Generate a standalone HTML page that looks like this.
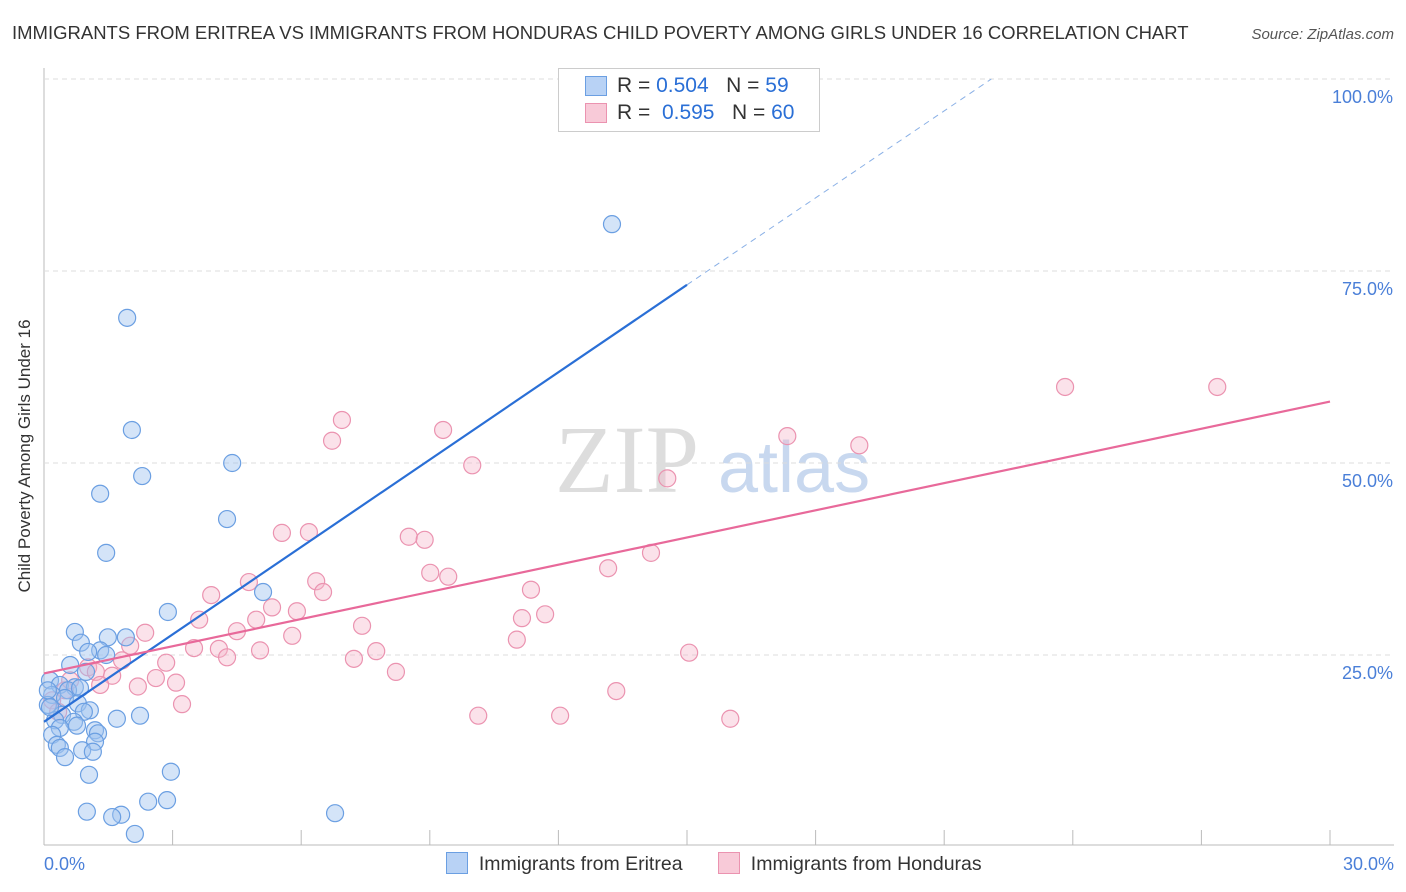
<!DOCTYPE html>
<html><head><meta charset="utf-8"><style>
body{margin:0;background:#fff;font-family:"Liberation Sans",sans-serif}
svg{display:block}
</style></head><body>
<svg id="chart" width="1406" height="892" xmlns="http://www.w3.org/2000/svg">
<text x="12" y="39" font-size="18.5" fill="#333">IMMIGRANTS FROM ERITREA VS IMMIGRANTS FROM HONDURAS CHILD POVERTY AMONG GIRLS UNDER 16 CORRELATION CHART</text>
<text x="1394" y="39" font-size="15" fill="#555" font-style="italic" text-anchor="end">Source: ZipAtlas.com</text>
<text x="30" y="456" font-size="17" fill="#333" text-anchor="middle" transform="rotate(-90 30 456)">Child Poverty Among Girls Under 16</text>
<text x="555" y="492" font-size="96" fill="#ddd" font-family="Liberation Serif,serif">ZIP</text>
<text x="718" y="492" font-size="72" fill="#c8d8ef">atlas</text>
<g id="grid"></g><g id="marks"></g>
</svg>
<script>
const xTicks=[0,3,6,9,12,15,18,21,24,27,30];
const yTicks=[25,50,75,100];
const blueX=[1.94,2.05,2.29,1.31,4.39,4.27,13.25,1.45,5.11,2.89,0.72,0.86,1.49,1.91,1.31,1.03,1.45,0.61,0.98,0.14,0.37,0.72,0.56,0.84,0.19,0.49,0.79,0.09,1.07,0.93,0.42,0.26,0.70,0.77,0.37,1.70,2.24,1.19,1.26,0.19,1.19,0.30,0.37,0.89,1.14,0.49,1.05,2.96,1.00,1.80,1.59,2.43,2.87,2.12,6.79,0.09,0.14];
const blueY=[68.9,54.3,48.3,46.0,50.0,42.7,81.1,38.3,33.2,30.6,28.0,26.6,27.3,27.3,25.6,25.4,25.0,23.7,22.8,21.7,21.1,20.8,20.4,20.7,19.8,19.4,18.7,18.5,17.8,17.6,17.2,16.5,16.3,15.8,15.5,16.7,17.1,15.2,14.8,14.6,13.7,13.3,12.9,12.6,12.4,11.7,9.4,9.8,4.6,4.2,3.9,5.9,6.1,1.7,4.4,20.4,18.2];
const pinkX=[23.82,27.37,6.95,6.72,9.31,9.99,17.34,19.02,14.54,5.55,6.18,8.51,8.88,14.16,13.16,9.01,9.43,4.78,6.35,6.51,11.36,3.90,5.32,5.90,11.69,11.15,3.62,4.95,7.42,4.50,2.36,5.79,11.03,2.01,3.50,4.08,5.04,7.75,4.27,7.23,15.05,1.82,2.85,1.03,1.21,1.59,8.21,2.61,3.08,2.19,0.49,13.35,0.19,3.22,10.13,12.04,16.01,0.33,0.61,1.31];
const pinkY=[59.9,59.9,55.6,52.9,54.3,49.7,53.5,52.3,48.0,40.9,41.0,40.4,40.0,38.3,36.3,35.7,35.2,34.5,34.6,33.2,33.5,32.8,31.2,30.7,30.3,29.8,29.6,29.6,28.8,28.1,27.9,27.5,27.0,26.2,25.9,25.8,25.6,25.5,24.7,24.5,25.3,24.3,24.0,23.4,22.8,22.3,22.8,22.0,21.4,20.9,20.4,20.3,19.1,18.6,17.1,17.1,16.7,17.6,21.7,21.1];
const blueLine=[0,16.3,15,73.2,22.1,100];
const pinkLine=[0,22.6,30,58.0];
const NS='http://www.w3.org/2000/svg';
const X=v=>44+v/30*1286, Y=v=>847-v/100*768;
const svg=document.getElementById('chart'),grid=document.getElementById('grid'),marks=document.getElementById('marks');
function mk(tag,at,par){const e=document.createElementNS(NS,tag);for(const k in at)e.setAttribute(k,at[k]);par.appendChild(e);return e;}
let ax=mk('line',{x1:44,y1:845,x2:1394,y2:845,stroke:'#bbb'},grid);


let ay=mk('line',{x1:44,y1:68,x2:44,y2:845,stroke:'#bbb'},grid);


xTicks.forEach(t=>{if(t===0)return;let l=mk('line',{x1:X(t),y1:830,x2:X(t),y2:845,stroke:'#bbb'},grid);

});
yTicks.forEach(t=>{let l=mk('line',{x1:44,y1:Y(t),x2:1394,y2:Y(t),stroke:'#ddd','stroke-dasharray':'5,4'},grid);


let tx=mk('text',{x:1393,y:Y(t)+24,'font-size':18,fill:'#4a7fd8','text-anchor':'end'},grid);tx.textContent=t.toFixed(1)+'%';

});
let x0=mk('text',{x:44,y:870,'font-size':18,fill:'#4a7fd8'},grid);x0.textContent='0.0%';


let x1=mk('text',{x:1394,y:870,'font-size':18,fill:'#4a7fd8','text-anchor':'end'},grid);x1.textContent='30.0%';


pinkX.forEach((v,i)=>{let c=mk('circle',{cx:X(v),cy:Y(pinkY[i]),r:8.5,fill:'rgba(246,182,202,0.4)',stroke:'#eb93b0','stroke-width':1.2},marks);

});
blueX.forEach((v,i)=>{let c=mk('circle',{cx:X(v),cy:Y(blueY[i]),r:8.5,fill:'rgba(160,196,240,0.45)',stroke:'#6b9fe2','stroke-width':1.2},marks);

});
let bl=mk('line',{x1:X(blueLine[0]),y1:Y(blueLine[1]),x2:X(blueLine[2]),y2:Y(blueLine[3]),stroke:'#2a6fd6','stroke-width':2.2},marks);


let bd=mk('line',{x1:X(blueLine[2]),y1:Y(blueLine[3]),x2:X(blueLine[4]),y2:Y(blueLine[5]),stroke:'#8ab0e6','stroke-width':1,'stroke-dasharray':'6,5'},marks);


let pl=mk('line',{x1:X(pinkLine[0]),y1:Y(pinkLine[1]),x2:X(pinkLine[2]),y2:Y(pinkLine[3]),stroke:'#e8699a','stroke-width':2.2},marks);


</script>
<div style="position:absolute;left:558px;top:68px;width:260px;height:62px;border:1px solid #ccc;background:#fff;font-size:21px;color:#333">
<div style="position:absolute;left:26px;top:7px;width:20px;height:18px;background:#b8d2f5;border:1px solid #6b9fe2"></div>
<div style="position:absolute;left:58px;top:5px">R = <span style="color:#2a6fd6">0.504</span>&nbsp;&nbsp;&nbsp;N = <span style="color:#2a6fd6">59</span></div>
<div style="position:absolute;left:26px;top:34px;width:20px;height:18px;background:#f8cad8;border:1px solid #eb93b0"></div>
<div style="position:absolute;left:58px;top:32px">R = &nbsp;<span style="color:#2a6fd6">0.595</span>&nbsp;&nbsp;&nbsp;N = <span style="color:#2a6fd6">60</span></div>
</div>
<div style="position:absolute;left:446px;top:852px;font-size:19.5px;color:#333;white-space:nowrap">
<span><span style="display:inline-block;width:20px;height:20px;background:#b8d2f5;border:1px solid #6b9fe2;vertical-align:-4px"></span>&nbsp; Immigrants from Eritrea</span>
<span style="margin-left:30px"><span style="display:inline-block;width:20px;height:20px;background:#f8cad8;border:1px solid #eb93b0;vertical-align:-4px"></span>&nbsp; Immigrants from Honduras</span>
</div>
</body></html>
